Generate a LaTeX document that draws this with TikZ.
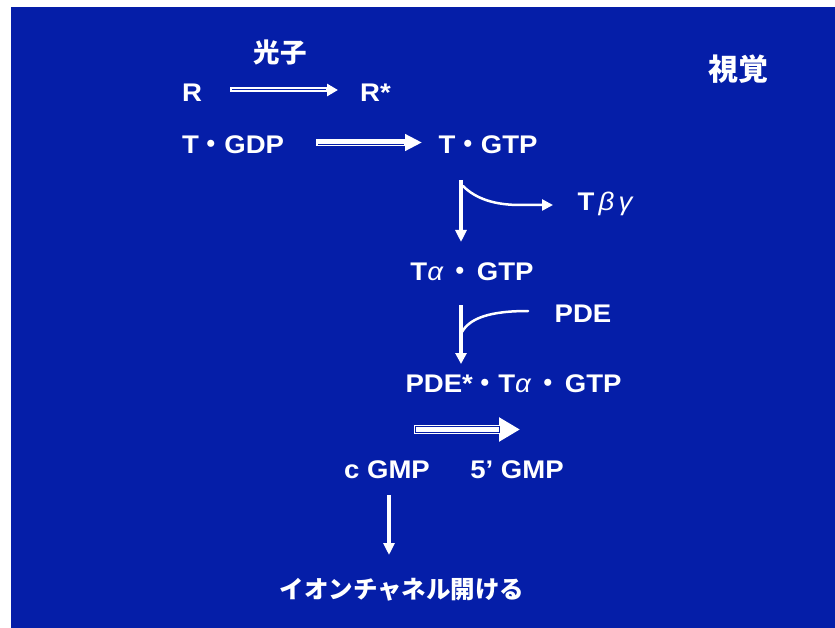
\documentclass[tikz,border=0pt]{standalone}
\usepackage{fontspec}
\usetikzlibrary{arrows.meta}
\setmainfont{Liberation Sans}[FakeStretch=1.08]
\newfontfamily\jp{Noto Sans CJK JP}
\definecolor{slideblue}{RGB}{5,30,168}
% katakana middle dot and italic Greek letters
\newcommand\kdot{{\jp\bfseries ・}}
\newcommand\gk[1]{{\mdseries\itshape #1}}
\tikzset{
  lbl/.style={text=white, inner sep=0pt, anchor=base,
    font=\fontsize{25.5}{30}\selectfont\bfseries},
  jlbl/.style={text=white, inner sep=0pt, anchor=center,
    font=\fontsize{24.5}{30}\selectfont\jp\bfseries},
  shaft/.style={draw=white, line cap=butt},
}
\begin{document}
\begin{tikzpicture}[x=1pt,y=-1pt]
\useasboundingbox (0,0) rectangle (835,628);
\fill[white] (0,0) rectangle (835,628);
\fill[slideblue] (11,7) rectangle (835,628);

% labels
\node[jlbl, font=\fontsize{26.5}{30}\selectfont\jp\bfseries] (photon) at (280,52) {光子};
\node[jlbl, font=\fontsize{30}{34}\selectfont\jp\bfseries] (vision) at (738,69) {視覚};
\node[lbl] (R) at (192,101.7) {R};
\node[lbl] (Rs) at (375.5,101.7) {R*};
\node[lbl] (TGDP) at (233,154) {T\kdot GDP};
\node[lbl] (TGTP) at (488,154) {T\kdot GTP};
\node[lbl] (Tbg) at (605,211) {T\,\gk{β}\,\gk{γ}};
\node[lbl] (TaGTP) at (472,281) {T\gk{α}\,\kdot\,GTP};
\node[lbl] (PDE) at (583,323) {PDE};
\node[lbl] (PDEc) at (513.5,392) {PDE*\kdot T\gk{α}\,\kdot\,GTP};
\node[lbl] (cGMP) at (387,478) {c GMP};
\node[lbl] (fGMP) at (517,478) {5’ GMP};
\node[jlbl] (ion) at (402,590) {イオンチャネル開ける};

% arrow end points
\coordinate (a1s) at (230,90);   \coordinate (a1e) at (338,90);
\coordinate (a2s) at (316,142.5); \coordinate (a2e) at (422,142.5);
\coordinate (v1s) at (461,180);  \coordinate (v1e) at (461,242);
\coordinate (b1s) at (463,186);  \coordinate (b1e) at (553,205);
\coordinate (v2s) at (461,305);  \coordinate (v2e) at (461,364);
\coordinate (b2s) at (462,332);  \coordinate (b2e) at (528,311);
\coordinate (a3s) at (414,429.5); \coordinate (a3e) at (520,429.5);
\coordinate (v3s) at (389,495);  \coordinate (v3e) at (389,555);

% R -> R*
\draw[shaft, line width=5pt, -{Triangle[length=11pt,width=12pt]}] (a1s) -- (a1e);
\draw[slideblue, line width=1pt] ([xshift=2pt]a1s) -- ([xshift=-12pt]a1e);
% T.GDP -> T.GTP
\draw[shaft, line width=7pt, -{Triangle[length=17pt,width=16pt]}] (a2s) -- (a2e);
\draw[slideblue, line width=0.8pt] ([xshift=2pt,yshift=-1.8pt]a2s) -- ([xshift=-18pt,yshift=-1.8pt]a2e);
% T.GTP -> Ta.GTP with the Tbg branch
\draw[shaft, line width=4pt, -{Triangle[length=12pt,width=11pt]}] (v1s) -- (v1e);
\draw[white, line width=2.5pt, line cap=round, -{Triangle[length=11pt,width=11pt]}]
  (b1s) .. controls (476,199) and (495,205) .. (520,205) -- (b1e);
% Ta.GTP -> PDE*.Ta.GTP with the PDE branch
\draw[shaft, line width=4pt, -{Triangle[length=11pt,width=11pt]}] (v2s) -- (v2e);
\draw[white, line width=2.5pt, line cap=round]
  (b2s) .. controls (470,318) and (490,311) .. (b2e);
% cGMP -> 5'GMP
\draw[shaft, line width=9pt, -{Triangle[length=21pt,width=23pt]}] (a3s) -- (a3e);
\draw[slideblue, line width=0.6pt] (415.5,426.3) rectangle (499,432.7);
% cGMP -> ion channel
\draw[shaft, line width=3.5pt, -{Triangle[length=12pt,width=11pt]}] (v3s) -- (v3e);
\end{tikzpicture}
\end{document}
